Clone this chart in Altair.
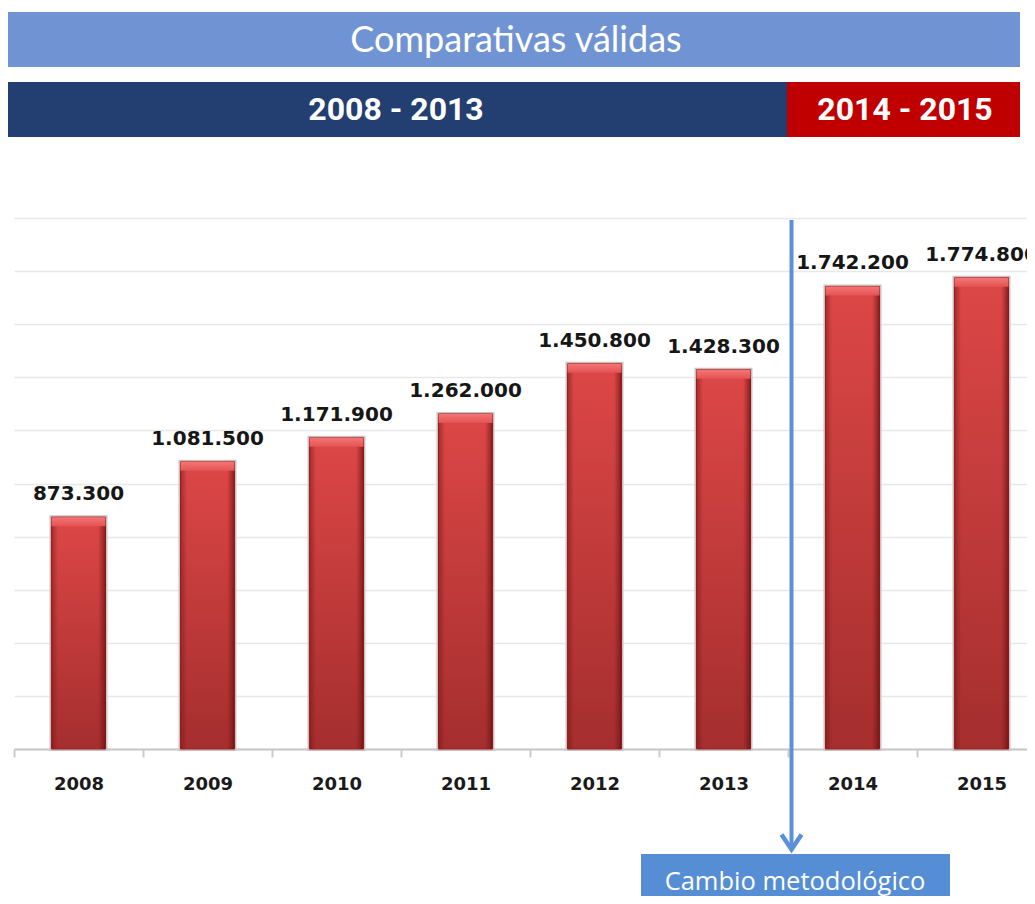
import altair as alt
import pandas as pd

# ---- data ----
years = ["2008", "2009", "2010", "2011", "2012", "2013", "2014", "2015"]
values = [873300, 1081500, 1171900, 1262000, 1450800, 1428300, 1742200, 1774800]
title_text = ["Comparativas válidas"]
period_labels = ["2008 - 2013", "2014 - 2015"]
change_year = ["2014"]
change_label = ["Cambio metodológico"]
grid_values = [0, 200000, 400000, 600000, 800000, 1000000,
               1200000, 1400000, 1600000, 1800000, 2000000]

df = pd.DataFrame({"year": years, "value": values})
df["label"] = [f"{v:,}".replace(",", ".") for v in values]
one = pd.DataFrame({"k": [0]})
chg = pd.DataFrame({"year": change_year})

W, H = 1013, 531
BAR_W = 54

x_scale = alt.Scale(paddingInner=0, paddingOuter=0, range=[0, 1032])
x_enc = alt.X(
    "year:N", sort=years, scale=x_scale,
    axis=alt.Axis(title=None, labelFont="DejaVu Sans", labelFontWeight="bold",
                  labelFontSize=18, labelColor="#1a1a1a", labelAngle=0,
                  tickBand="extent", tickSize=8, tickColor="#CCCCCC", tickWidth=2,
                  domainColor="#C8C8C8", domainWidth=2, labelPadding=18, grid=False),
)
x_plain = alt.X("year:N", sort=years)
y_enc = alt.Y(
    "value:Q",
    scale=alt.Scale(domain=[0, 2000000], nice=False),
    axis=alt.Axis(title=None, labels=False, ticks=False, domain=False,
                  values=grid_values, gridColor="#E8E8E8", gridWidth=1.5),
)

base = alt.Chart(df)

vert = alt.Gradient(gradient="linear", x1=0, x2=0, y1=0, y2=1,
                    stops=[alt.GradientStop(color="#DD4747", offset=0),
                           alt.GradientStop(color="#A52E2E", offset=1)])
edges = alt.Gradient(gradient="linear", x1=0, x2=1, y1=0, y2=0,
                     stops=[alt.GradientStop(color="rgba(120,20,20,0.55)", offset=0),
                            alt.GradientStop(color="rgba(120,20,20,0)", offset=0.12),
                            alt.GradientStop(color="rgba(120,20,20,0)", offset=0.86),
                            alt.GradientStop(color="rgba(100,10,10,0.7)", offset=1)])
capg = alt.Gradient(gradient="linear", x1=0, x2=0, y1=0, y2=1,
                    stops=[alt.GradientStop(color="#F47575", offset=0),
                           alt.GradientStop(color="#E45353", offset=1)])

shadow = base.mark_bar(width=BAR_W, fill="#C9BCBC", stroke="#CBBFBF", strokeWidth=4).encode(x=x_enc, y=y_enc)
bars = base.mark_bar(width=BAR_W, fill=vert, stroke="#9A2424", strokeWidth=1).encode(x=x_plain, y=y_enc)
bar_edges = base.mark_bar(width=BAR_W, fill=edges).encode(x=x_plain, y=y_enc)
caps = base.mark_bar(width=BAR_W, fill=capg, y2Offset=9).encode(x=x_plain, y=y_enc, y2="value:Q")
labels = base.mark_text(dy=-17, baseline="alphabetic", font="DejaVu Sans",
                        fontWeight="bold", fontSize=20, color="#161616").encode(
    x=x_plain, y=y_enc, text="label:N")

# methodological change marker (at the boundary before 2014)
rule = alt.Chart(chg).mark_rule(color="#5B8FDA", strokeWidth=4, xOffset=-61).encode(
    x=x_plain, y=alt.value(2), y2=alt.value(628))
arrow = alt.Chart(chg).mark_point(shape="M-1,-0.75L0,0.75L1,-0.75", filled=False,
                                  strokeWidth=4.5, size=400, color="#5B8FDA", opacity=1,
                                  xOffset=-61).encode(
    x=x_plain, y=alt.value(624))
box = alt.Chart(one).mark_rect(color="#558ED5").encode(
    x=alt.value(627), x2=alt.value(936), y=alt.value(636), y2=alt.value(700))
box_text = alt.Chart(one).mark_text(color="white", font="Open Sans", fontSize=25.5,
                                    align="center", baseline="alphabetic").encode(
    x=alt.value(781), y=alt.value(672), text=alt.value(change_label[0]))

# banners
title_rect = alt.Chart(one).mark_rect(color="#7094D3").encode(
    x=alt.value(-7), x2=alt.value(1006), y=alt.value(-206), y2=alt.value(-151))
title_txt = alt.Chart(one).mark_text(color="white", font="Lato", fontSize=36,
                                     align="center", baseline="alphabetic").encode(
    x=alt.value(502), y=alt.value(-166), text=alt.value(title_text[0]))
navy = alt.Chart(one).mark_rect(color="#233E70").encode(
    x=alt.value(-7), x2=alt.value(773), y=alt.value(-136), y2=alt.value(-81))
red = alt.Chart(one).mark_rect(color="#C00000").encode(
    x=alt.value(773), x2=alt.value(1006), y=alt.value(-136), y2=alt.value(-81))
p1 = alt.Chart(one).mark_text(color="white", font="Roboto", fontWeight="bold", fontSize=32,
                              align="center", baseline="alphabetic").encode(
    x=alt.value(382), y=alt.value(-98), text=alt.value(period_labels[0]))
p2 = alt.Chart(one).mark_text(color="white", font="Roboto", fontWeight="bold", fontSize=32,
                              align="center", baseline="alphabetic").encode(
    x=alt.value(891), y=alt.value(-98), text=alt.value(period_labels[1]))

chart = alt.layer(
    shadow, bars, bar_edges, caps, labels, rule, arrow, box, box_text,
    title_rect, title_txt, navy, red, p1, p2,
).properties(
    width=W, height=H,
    padding={"left": 6, "top": 210, "right": 0, "bottom": 147},
    autosize=alt.AutoSizeParams(type="none"),
    background="white",
).configure_view(stroke=None)

chart.save("out.html", embed_options={"renderer": "svg", "actions": False})
